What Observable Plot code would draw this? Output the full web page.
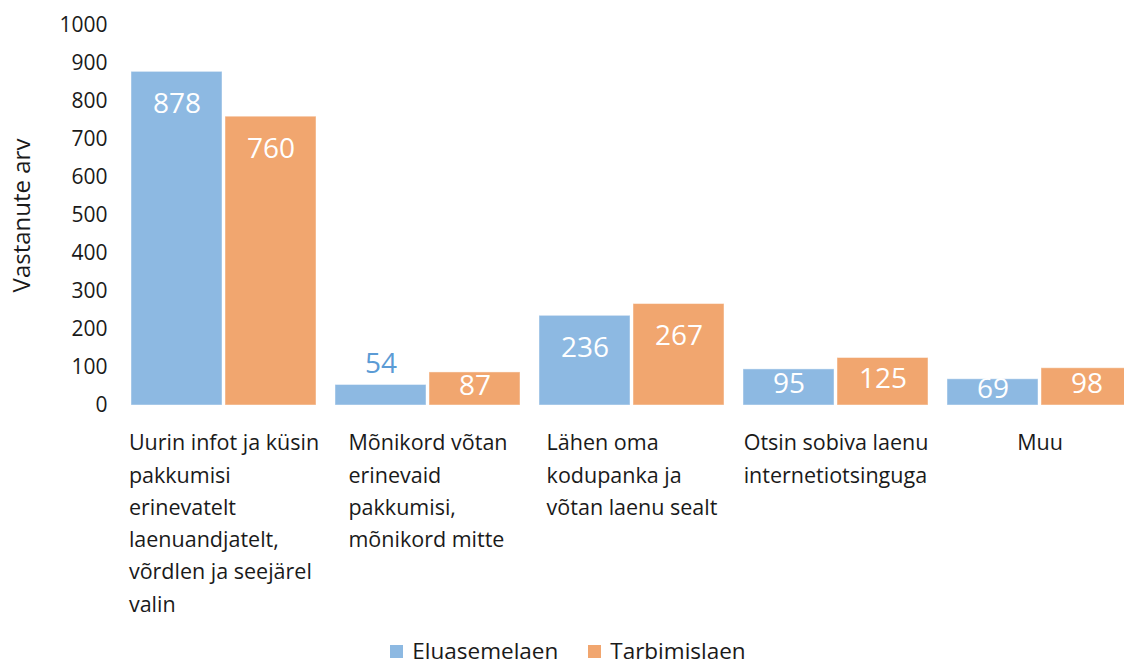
<!DOCTYPE html>
<html>
<head>
<meta charset="utf-8">
<script src="https://cdn.jsdelivr.net/npm/d3@7"></script>
<script src="https://cdn.jsdelivr.net/npm/@observablehq/plot@0.6"></script>
<style>
  html, body { margin: 0; padding: 0; background: #fff; }
  body { width: 1124px; height: 664px; overflow: hidden; font-family: "Open Sans", sans-serif; }
  #chart svg { display: block; }
  #legend { box-sizing: border-box; display: flex; justify-content: center; align-items: flex-start; gap: 30px; height: 34px; padding-top: 10px; margin-left: 12px; font-size: 22.5px; line-height: 22px; color: #1a1a1a; }
  #legend .item { display: flex; align-items: center; gap: 9px; height: 22px; }
  #legend .sw { width: 13px; height: 13px; display: inline-block; }
</style>
</head>
<body>
<div id="chart"></div>
<div id="legend"></div>
<script>
const categories = [
  "Uurin infot ja küsin\npakkumisi\nerinevatelt\nlaenuandjatelt,\nvõrdlen ja seejärel\nvalin",
  "Mõnikord võtan\nerinevaid\npakkumisi,\nmõnikord mitte",
  "Lähen oma\nkodupanka ja\nvõtan laenu sealt",
  "Otsin sobiva laenu\ninternetiotsinguga",
  "Muu"
];
const series = ["Eluasemelaen", "Tarbimislaen"];
const eluasemelaen = [878, 54, 236, 95, 69];
const tarbimislaen = [760, 87, 267, 125, 98];
const yTicks = [0, 100, 200, 300, 400, 500, 600, 700, 800, 900, 1000];
const colors = ["#8DB9E2", "#F1A66F"];
const yTitle = "Vastanute arv";

const data = categories.flatMap((c, i) => [
  {cat: c, series: series[0], value: eluasemelaen[i]},
  {cat: c, series: series[1], value: tarbimislaen[i]}
]);

const catFont = 21.5;
const ctx = document.createElement("canvas").getContext("2d");
ctx.font = catFont + "px 'Open Sans'";
const blockWidth = c => Math.max(...c.split("\n").map(l => ctx.measureText(l).width));

const catMarks = categories.map(c => Plot.text([c], {
  fx: d => d, text: d => d, frameAnchor: "bottom", textAnchor: "start", lineAnchor: "top",
  dy: 22, dx: -blockWidth(c) / 2, fontSize: catFont, lineHeight: 1.5, fill: "#1a1a1a"
}));

const chart = Plot.plot({
  width: 1124,
  height: 630,
  marginTop: 25,
  marginBottom: 225,
  marginLeft: 121,
  marginRight: -18,
  style: {fontFamily: "'Open Sans', sans-serif", background: "#fff", overflow: "hidden"},
  fx: {domain: categories, paddingInner: 0.094, paddingOuter: 0.047, axis: null, label: null},
  x: {domain: series, paddingInner: 0.032, paddingOuter: 0, axis: null, label: null},
  y: {domain: [0, 1000], label: null},
  color: {domain: series, range: colors},
  marks: [
    Plot.axisY({ticks: yTicks, tickFormat: d => String(d), tickSize: 0, tickPadding: 24, fontSize: 21, label: null, fill: "#1a1a1a"}),
    Plot.barY(data, {fx: "cat", x: "series", y: "value", fill: "series", stroke: "#ffffff", strokeOpacity: 0.45, strokeWidth: 1}),
    Plot.text(data.filter(d => d.value >= 200), {fx: "cat", x: "series", y: "value", text: d => String(d.value), dy: 32, fill: "white", fontSize: 28}),
    Plot.text(data.filter(d => d.value >= 60 && d.value < 200), {fx: "cat", x: "series", y: d => d.value / 2, text: d => String(d.value), dy: -3, fill: "white", fontSize: 28}),
    Plot.text(data.filter(d => d.value < 60), {fx: "cat", x: "series", y: "value", text: d => String(d.value), dy: -21, fill: "#5B9BD5", fontSize: 28}),
    Plot.text([categories[0]], {fx: d => d, text: () => yTitle, frameAnchor: "left", textAnchor: "middle", rotate: -90, dx: -109, fontSize: 24, fill: "#1a1a1a"}),
    ...catMarks
  ]
});
document.getElementById("chart").appendChild(chart);

const legend = document.getElementById("legend");
series.forEach((s, i) => {
  const item = document.createElement("div");
  item.className = "item";
  const sw = document.createElement("span");
  sw.className = "sw";
  sw.style.background = colors[i];
  const t = document.createElement("span");
  t.textContent = s;
  item.appendChild(sw);
  item.appendChild(t);
  legend.appendChild(item);
});
</script>
</body>
</html>
